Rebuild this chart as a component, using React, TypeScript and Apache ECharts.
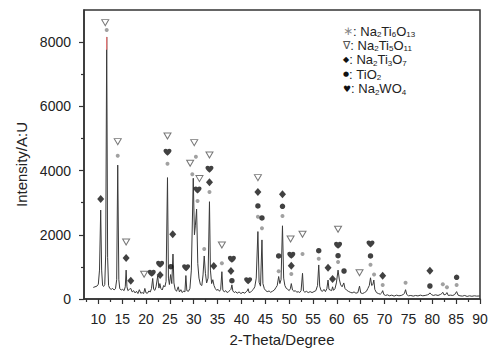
import React, { useEffect, useRef } from 'react';
import * as echarts from 'echarts';

const FONT = "'Liberation Sans', Arial, sans-serif";

// axis ticks / labels
const xMajorTicks = [10, 15, 20, 25, 30, 35, 40, 45, 50, 55, 60, 65, 70, 75, 80, 85, 90];
const xMinorTicks = [7.5, 12.5, 17.5, 22.5, 27.5, 32.5, 37.5, 42.5, 47.5, 52.5, 57.5, 62.5, 67.5, 72.5, 77.5, 82.5, 87.5];
const yMajorTicks = [0, 2000, 4000, 6000, 8000];
const yMinorTicks = [1000, 3000, 5000, 7000];

// XRD pattern [2-theta, intensity]
const pattern: [number, number][] = [
  [8.95, 360], [9.3, 380], [9.7, 400], [10.0, 460], [10.25, 900], [10.5, 2770], [10.7, 900], [10.9, 420],
  [11.1, 390], [11.35, 450], [11.55, 1400], [11.76, 8160], [11.95, 1300], [12.15, 420], [12.4, 330], [12.7, 300],
  [13.0, 330], [13.3, 280], [13.6, 320], [13.85, 600], [14.07, 4170], [14.3, 600], [14.5, 320], [14.8, 280],
  [15.1, 300], [15.4, 260], [15.65, 380], [15.83, 900], [16.0, 380], [16.2, 260], [16.5, 300], [16.8, 330],
  [17.1, 220], [17.4, 260], [17.7, 190], [18.0, 240], [18.3, 170], [18.6, 290], [18.9, 180], [19.2, 200],
  [19.5, 170], [19.75, 330], [20.0, 190], [20.3, 180], [20.6, 250], [20.9, 220], [21.15, 330], [21.4, 640],
  [21.6, 300], [21.85, 270], [22.1, 380], [22.45, 720], [22.7, 340], [22.9, 480], [23.1, 330], [23.4, 280],
  [23.7, 420], [23.95, 380], [24.2, 550], [24.5, 3780], [24.7, 650], [24.9, 450], [25.15, 760], [25.4, 480],
  [25.65, 1400], [25.85, 500], [26.1, 300], [26.4, 240], [26.75, 380], [27.0, 220], [27.3, 290], [27.6, 200],
  [27.9, 250], [28.15, 220], [28.35, 730], [28.55, 260], [28.9, 240], [29.2, 330], [29.5, 900], [29.9, 3760],
  [30.15, 2000], [30.35, 2300], [30.6, 2800], [30.85, 1100], [31.1, 650], [31.4, 450], [31.7, 420], [31.95, 750],
  [32.2, 1340], [32.45, 800], [32.7, 500], [33.0, 650], [33.3, 3030], [33.5, 900], [33.75, 480], [34.0, 600],
  [34.25, 420], [34.5, 330], [34.8, 270], [35.1, 300], [35.4, 240], [35.65, 300], [35.9, 850], [36.1, 280],
  [36.4, 220], [36.7, 260], [37.0, 200], [37.3, 230], [37.6, 270], [37.8, 300], [38.0, 440], [38.2, 250],
  [38.5, 200], [38.8, 230], [39.1, 180], [39.5, 220], [39.9, 170], [40.3, 210], [40.7, 180], [41.0, 230],
  [41.2, 250], [41.4, 320], [41.6, 200], [41.9, 210], [42.2, 260], [42.5, 300], [42.8, 380], [43.1, 650],
  [43.45, 2100], [43.7, 520], [44.0, 400], [44.3, 1840], [44.5, 480], [44.8, 320], [45.1, 260], [45.4, 230],
  [45.8, 250], [46.1, 210], [46.5, 240], [46.9, 280], [47.2, 350], [47.5, 420], [47.8, 700], [48.05, 480],
  [48.3, 600], [48.6, 2280], [48.85, 650], [49.1, 420], [49.4, 330], [49.7, 300], [50.0, 260], [50.25, 320],
  [50.45, 480], [50.7, 280], [51.0, 240], [51.3, 260], [51.6, 210], [51.9, 230], [52.2, 200], [52.5, 260],
  [52.8, 800], [53.0, 250], [53.3, 210], [53.6, 240], [54.0, 200], [54.4, 230], [54.8, 200], [55.2, 230],
  [55.6, 260], [55.95, 420], [56.2, 1060], [56.4, 400], [56.7, 260], [57.0, 240], [57.3, 300], [57.6, 230],
  [57.9, 320], [58.15, 590], [58.35, 300], [58.6, 280], [58.9, 260], [59.1, 380], [59.3, 270], [59.6, 320],
  [59.9, 500], [60.25, 900], [60.5, 620], [60.8, 440], [61.1, 380], [61.45, 500], [61.7, 330], [62.0, 280],
  [62.4, 240], [62.8, 210], [63.2, 190], [63.6, 220], [64.0, 180], [64.4, 200], [64.75, 400], [65.0, 190],
  [65.4, 170], [65.8, 200], [66.2, 240], [66.5, 330], [66.8, 420], [67.05, 660], [67.3, 420], [67.55, 450],
  [67.75, 590], [67.95, 300], [68.3, 200], [68.7, 170], [69.1, 150], [69.4, 190], [69.6, 260], [69.85, 140],
  [70.2, 110], [70.6, 130], [71.0, 100], [71.5, 120], [72.0, 90], [72.5, 120], [73.0, 100], [73.5, 110],
  [73.9, 140], [74.15, 170], [74.4, 290], [74.65, 140], [75.0, 100], [75.5, 110], [76.0, 90], [76.5, 110],
  [77.0, 95], [77.5, 120], [78.0, 100], [78.5, 110], [79.0, 130], [79.3, 150], [79.5, 190], [79.8, 140],
  [80.2, 110], [80.7, 130], [81.2, 110], [81.7, 140], [82.0, 170], [82.2, 210], [82.45, 130], [82.8, 140],
  [83.07, 200], [83.35, 110], [83.8, 120], [84.3, 110], [84.7, 140], [85.1, 230], [85.4, 120], [85.8, 100],
  [86.3, 90], [86.8, 110], [87.3, 80], [87.8, 100], [88.3, 85], [88.8, 100], [89.3, 90], [90.0, 95],
];

// red highlighted top of the strongest peak
const peakHighlight: [number, number][] = [[11.76, 7760], [11.76, 8160]];

// phase markers [2-theta, height]
const markNa2Ti6O13: [number, number][] = [
  [11.76, 8380], [14.07, 4460], [24.5, 4215], [29.7, 3884], [30.45, 4433], [30.8, 3053], [32.2, 1557],
  [33.3, 3333], [35.9, 1112], [43.45, 2564], [44.3, 2202], [47.8, 862], [48.6, 2585], [50.45, 779],
  [52.8, 1402], [56.2, 1255], [60.25, 1152], [67.05, 1069], [67.8, 760], [69.6, 436], [74.4, 508],
  [82.2, 457], [83.07, 364], [85.1, 436],
];
const markNa2Ti5O11: [number, number][] = [
  [11.45, 8607], [14.07, 4900], [15.83, 1775], [19.6, 770], [24.5, 5077], [29.25, 4226], [30.1, 4870],
  [31.2, 3750], [33.3, 4486], [35.9, 1682], [43.45, 3780], [50.3, 1869], [52.8, 2015], [60.25, 2171],
  [64.75, 820],
];
const markNa2Ti3O7: [number, number][] = [
  [10.5, 3115], [15.83, 1277], [16.8, 570], [22.95, 750], [25.6, 2015], [33.3, 3635], [34.2, 1028],
  [37.8, 872], [43.45, 3333], [48.6, 3260], [50.45, 1037], [58.15, 975], [59.1, 623], [69.6, 727],
  [79.5, 882],
];
const markTiO2: [number, number][] = [
  [25.2, 1006], [38.0, 570], [43.45, 2897], [44.3, 2523], [47.8, 1340], [48.6, 2887], [56.2, 1505],
  [60.25, 1349], [61.5, 872], [67.05, 1340], [79.5, 405], [85.1, 675],
];
const markNa2WO4: [number, number][] = [
  [21.2, 800], [22.95, 1080], [24.5, 4570], [28.4, 975], [30.8, 3395], [33.3, 4040], [38.0, 1236],
  [41.4, 570], [50.45, 1361], [60.25, 1672], [67.05, 1713],
];

// legend entries: marker glyph + formula (element, subscript)
const legendMarks = ['∗', '∇', '◆', '●', '♥'];
const legendFormulas: [string, string][][] = [
  [['Na', '2'], ['Ti', '6'], ['O', '13']],
  [['Na', '2'], ['Ti', '5'], ['O', '11']],
  [['Na', '2'], ['Ti', '3'], ['O', '7']],
  [['TiO', '2']],
  [['Na', '2'], ['WO', '4']],
];

const HEART =
  'path://M12,21.35L10.55,20.03C5.4,15.36 2,12.28 2,8.5C2,5.42 4.42,3 7.5,3C9.24,3 10.91,3.81 12,5.09C13.09,3.81 14.76,3 16.5,3C19.58,3 22,5.42 22,8.5C22,12.28 18.6,15.36 13.45,20.04L12,21.35Z';

export default function App() {
  const ref = useRef<HTMLDivElement>(null);
  useEffect(() => {
    if (!ref.current) return;
    const chart = echarts.init(ref.current, undefined, { renderer: 'svg' });
    const axisColor = '#333';
    const markStyles: any[] = [
      { fill: '#888', fontSize: 12 },
      { fill: '#555', fontSize: 11 },
      { fill: '#111', fontSize: 8 },
      { fill: '#111', fontSize: 7 },
      { fill: '#111', fontSize: 9 },
    ];
    const legendGraphics = legendFormulas.map((parts, i) => {
      let txt = `{m${i}|${legendMarks[i]}}{t|: }`;
      parts.forEach(([el, sub]) => {
        txt += `{t|${el}}{s|${sub}}`;
      });
      const rich: any = {
        t: { fill: '#222', fontSize: 13, fontFamily: FONT, lineHeight: 15 },
        s: { fill: '#222', fontSize: 8, fontFamily: FONT, verticalAlign: 'bottom' },
      };
      rich['m' + i] = { ...markStyles[i], fontFamily: 'DejaVu Sans', lineHeight: 15 };
      return {
        type: 'text',
        x: 343,
        y: 31 + i * 14.4,
        style: { text: txt, rich, verticalAlign: 'middle', align: 'left' },
        z: 10,
      };
    });

    const tickLine = { color: axisColor, width: 1.2 };
    const plain = (v: number) => String(v);
    const option: any = {
      animation: false,
      backgroundColor: '#fff',
      grid: {
        left: 84, right: 20, top: 10, bottom: 59,
        show: true, borderColor: axisColor, borderWidth: 1.5, backgroundColor: 'transparent',
      },
      xAxis: [
        {
          type: 'value', min: 7, max: 90, position: 'bottom',
          name: '2-Theta/Degree', nameLocation: 'middle', nameGap: 33,
          nameTextStyle: { fontSize: 15, color: '#222', fontFamily: FONT },
          axisLine: { show: true, onZero: false, lineStyle: { color: axisColor, width: 1.5 } },
          axisTick: { show: true, customValues: xMajorTicks, length: 5, lineStyle: tickLine },
          axisLabel: { customValues: xMajorTicks, fontSize: 14, color: '#222', margin: 13, fontFamily: FONT, formatter: plain },
          splitLine: { show: false },
        },
        {
          type: 'value', min: 7, max: 90, position: 'bottom',
          axisLine: { show: false },
          axisTick: { show: true, customValues: xMinorTicks, length: 3, lineStyle: tickLine },
          axisLabel: { show: false },
          splitLine: { show: false },
        },
      ],
      yAxis: [
        {
          type: 'value', min: 0, max: 9000, position: 'left',
          name: 'Intensity/A:U', nameLocation: 'middle', nameGap: 50,
          nameTextStyle: { fontSize: 15, color: '#222', fontFamily: FONT, padding: [0, 20, 0, 0] },
          axisLine: { show: true, onZero: false, lineStyle: { color: axisColor, width: 1.5 } },
          axisTick: { show: true, customValues: yMajorTicks, length: 5, lineStyle: tickLine },
          axisLabel: { customValues: yMajorTicks, fontSize: 14, color: '#222', margin: 13, fontFamily: FONT, formatter: plain },
          splitLine: { show: false },
        },
        {
          type: 'value', min: 0, max: 9000, position: 'left',
          axisLine: { show: false },
          axisTick: { show: true, customValues: yMinorTicks, length: 3, lineStyle: tickLine },
          axisLabel: { show: false },
          splitLine: { show: false },
        },
      ],
      series: [
        {
          type: 'line', data: pattern, showSymbol: false, symbol: 'none',
          lineStyle: { color: '#3a3a3a', width: 1 }, z: 2,
        },
        {
          type: 'line', data: peakHighlight, showSymbol: false, symbol: 'none',
          lineStyle: { color: '#f07a7a', width: 1.2 }, z: 3,
        },
        {
          type: 'scatter', data: markNa2Ti6O13, symbol: 'circle', symbolSize: 4,
          itemStyle: { color: '#8a8a8a' }, z: 4,
        },
        {
          type: 'scatter', data: markNa2Ti5O11, symbol: 'triangle', symbolRotate: 180, symbolSize: [7, 6],
          itemStyle: { color: '#fff', borderColor: '#555', borderWidth: 1 }, z: 4,
        },
        {
          type: 'scatter', data: markNa2Ti3O7, symbol: 'diamond', symbolSize: [7, 8],
          itemStyle: { color: '#111' }, z: 4,
        },
        {
          type: 'scatter', data: markTiO2, symbol: 'circle', symbolSize: 5.5,
          itemStyle: { color: '#111' }, z: 4,
        },
        {
          type: 'scatter', data: markNa2WO4, symbol: HEART, symbolSize: [8, 7],
          itemStyle: { color: '#111' }, z: 4,
        },
      ],
      graphic: legendGraphics,
    };
    chart.setOption(option);
    return () => chart.dispose();
  }, []);
  return <div ref={ref} style={{ width: 500, height: 358, margin: -8 }} />;
}
